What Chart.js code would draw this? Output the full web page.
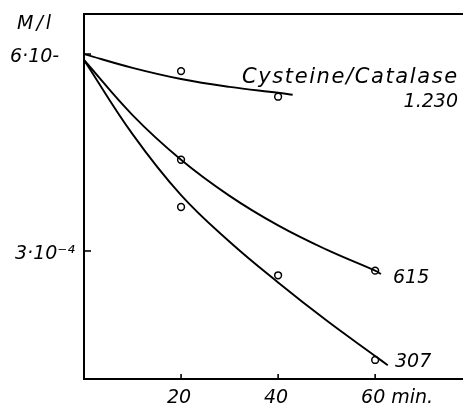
<!DOCTYPE html>
<html>
<head>
<meta charset="utf-8">
<script src="https://cdn.jsdelivr.net/npm/chart.js@4/dist/chart.umd.min.js"></script>
<style>
  body { margin: 0; background: #fff; }
</style>
</head>
<body>
<canvas id="decaycanvas" width="468" height="404"></canvas>
<script>
// fitted curves (min, M/l x 10^-4)
const curve1230X = [0, 10, 20, 30, 40, 43];
const curve1230Y = [6.0, 5.79, 5.62, 5.50, 5.41, 5.38];
const curve615X = [0, 10, 20, 30, 40, 50, 60, 61.2];
const curve615Y = [5.91, 5.07, 4.39, 3.84, 3.39, 3.02, 2.70, 2.65];
const curve307X = [0, 10, 20, 30, 40, 50, 60, 62.6];
const curve307Y = [5.91, 4.78, 3.85, 3.14, 2.52, 1.94, 1.40, 1.26];

// measured points (circles)
const pts1230X = [20, 40];
const pts1230Y = [5.74, 5.35];
const pts615X = [20, 60];
const pts615Y = [4.39, 2.70];
const pts307X = [20, 40, 60];
const pts307Y = [3.67, 2.63, 1.34];

const timeTicks = [20, 40, 60];
const timeTickLabels = ['20', '40', '60 min.'];
const concTicks = [6, 3];
const concTickLabels = ['6·10-', '3·10⁻⁴'];
const seriesNames = ['Cysteine/Catalase', '1.230', '615', '307'];

function toXY(xs, ys) {
    return xs.map(function(x, i) { return { x: x, y: ys[i] }; });
}

function curveSet(xs, ys) {
    return {
        data: toXY(xs, ys),
        showLine: true,
        borderColor: '#000',
        borderWidth: 1.9,
        pointRadius: 0,
        tension: 0.4
    };
}

function pointSet(xs, ys) {
    return {
        data: toXY(xs, ys),
        showLine: false,
        pointRadius: 3.4,
        pointBackgroundColor: '#fff',
        pointBorderColor: '#000',
        pointBorderWidth: 1.5
    };
}

// tick marks + all the lettering
const lettering = {
    id: 'lettering',
    afterDraw(chart) {
        let ctx = chart.ctx;
        let xs = chart.scales.x;
        let ys = chart.scales.y;
        let area = chart.chartArea;
        ctx.save();
        ctx.strokeStyle = '#000';
        ctx.fillStyle = '#000';
        ctx.lineWidth = 1.6;

        // inward ticks
        timeTicks.forEach(function(t) {
            let px = xs.getPixelForValue(t);
            ctx.beginPath();
            ctx.moveTo(px, area.bottom);
            ctx.lineTo(px, area.bottom - 5);
            ctx.stroke();
        });
        concTicks.forEach(function(v) {
            let py = ys.getPixelForValue(v);
            ctx.beginPath();
            ctx.moveTo(area.left, py);
            ctx.lineTo(area.left + 7, py);
            ctx.stroke();
        });

        ctx.font = 'italic 19px "DejaVu Sans"';
        ctx.textBaseline = 'alphabetic';

        // x labels
        timeTicks.forEach(function(t, i) {
            let px = xs.getPixelForValue(t);
            let w = ctx.measureText(timeTickLabels[i].slice(0, 2)).width;
            ctx.textAlign = 'left';
            ctx.fillText(timeTickLabels[i], px - w / 2 - 2, area.bottom + 24);
        });

        // y labels
        ctx.textAlign = 'left';
        let yLabelLeft = [10, 15];
        concTicks.forEach(function(v, i) {
            let py = ys.getPixelForValue(v);
            ctx.fillText(concTickLabels[i], yLabelLeft[i], py + 8);
        });

        ctx.font = 'italic 19px "DejaVu Sans"';
        ctx.letterSpacing = '3px';
        ctx.fillText('M/l', 17, 29);

        // series names
        ctx.font = 'italic 21px "DejaVu Sans"';
        ctx.letterSpacing = '1.6px';
        ctx.fillText(seriesNames[0], 242, 83);
        ctx.letterSpacing = '0px';
        ctx.font = 'italic 19px "DejaVu Sans"';
        ctx.textAlign = 'right';
        ctx.fillText(seriesNames[1], 458, 107);
        ctx.textAlign = 'left';
        ctx.fillText(seriesNames[2], 393, 283);
        ctx.fillText(seriesNames[3], 395, 367);
        ctx.restore();
    }
};

function hiddenAxis(extra) {
    return Object.assign({
        type: 'linear',
        grid: { display: false, drawTicks: false },
        border: { display: true, width: 2, color: '#000' },
        ticks: { display: false }
    }, extra);
}

let canvas = document.getElementById('decaycanvas').getContext('2d');
let decayChart = new Chart(canvas, {
    type: 'scatter',
    data: {
        datasets: [
            curveSet(curve1230X, curve1230Y),
            curveSet(curve615X, curve615Y),
            curveSet(curve307X, curve307Y),
            pointSet(pts1230X, pts1230Y),
            pointSet(pts615X, pts615Y),
            pointSet(pts307X, pts307Y)
        ]
    },
    options: {
        responsive: false,
        animation: false,
        layout: { padding: { right: 3, left: 0, top: 0, bottom: 0 } },
        plugins: { legend: { display: false }, tooltip: { enabled: false } },
        scales: {
            x: hiddenAxis({ position: 'bottom', min: 0, max: 78, afterFit: function(s) { s.height = 25; } }),
            xTop: hiddenAxis({ position: 'top', min: 0, max: 78, afterFit: function(s) { s.height = 14; } }),
            y: hiddenAxis({ position: 'left', min: 1.05, max: 6.61, afterFit: function(s) { s.width = 84; } })
        }
    },
    plugins: [lettering]
});
</script>
</body>
</html>
